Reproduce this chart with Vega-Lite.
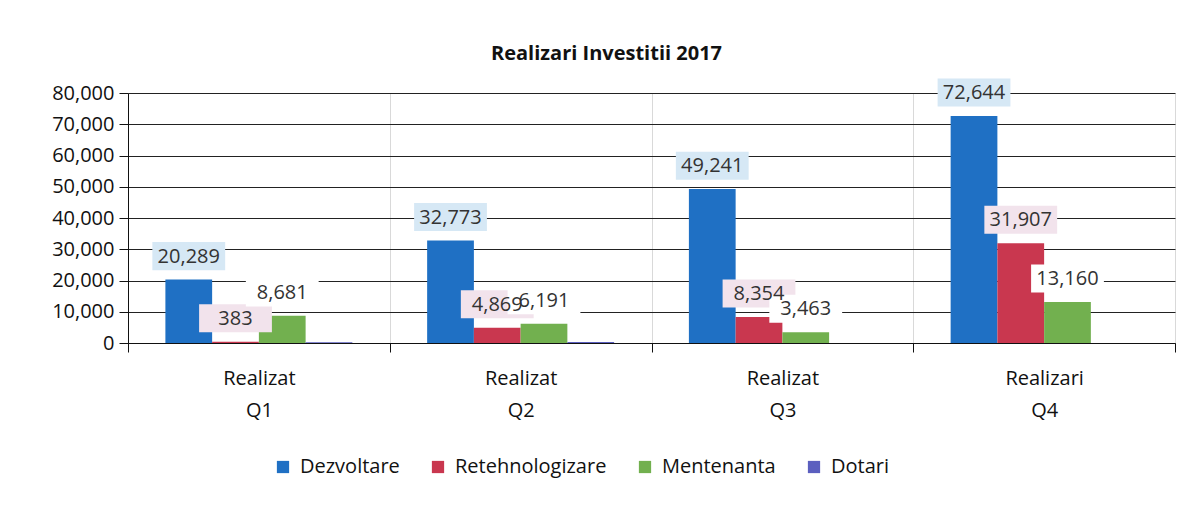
{
  "$schema": "https://vega.github.io/schema/vega-lite/v6.json",
  "width": 1047,
  "height": 250,
  "autosize": {"type": "none"},
  "padding": {"left": 128, "top": 93, "right": 19, "bottom": 165},
  "background": "white",
  "config": {"font": "Open Sans", "view": {"stroke": null}},
  "title": {"text": "Realizari Investitii 2017", "fontSize": 20, "fontWeight": "bold", "color": "#111", "offset": 14, "dx": -45},
  "data": {"values": [
    {"quarter": "Realizat Q1", "series": "Dezvoltare", "value": 20289},
    {"quarter": "Realizat Q1", "series": "Retehnologizare", "value": 383},
    {"quarter": "Realizat Q1", "series": "Mentenanta", "value": 8681},
    {"quarter": "Realizat Q1", "series": "Dotari", "value": 250},
    {"quarter": "Realizat Q2", "series": "Dezvoltare", "value": 32773},
    {"quarter": "Realizat Q2", "series": "Retehnologizare", "value": 4869},
    {"quarter": "Realizat Q2", "series": "Mentenanta", "value": 6191},
    {"quarter": "Realizat Q2", "series": "Dotari", "value": 350},
    {"quarter": "Realizat Q3", "series": "Dezvoltare", "value": 49241},
    {"quarter": "Realizat Q3", "series": "Retehnologizare", "value": 8354},
    {"quarter": "Realizat Q3", "series": "Mentenanta", "value": 3463},
    {"quarter": "Realizat Q3", "series": "Dotari", "value": 0},
    {"quarter": "Realizari Q4", "series": "Dezvoltare", "value": 72644},
    {"quarter": "Realizari Q4", "series": "Retehnologizare", "value": 31907},
    {"quarter": "Realizari Q4", "series": "Mentenanta", "value": 13160},
    {"quarter": "Realizari Q4", "series": "Dotari", "value": 0}
  ]},
  "encoding": {
    "x": {
      "field": "quarter", "type": "nominal",
      "sort": ["Realizat Q1", "Realizat Q2", "Realizat Q3", "Realizari Q4"],
      "scale": {"paddingInner": 0, "paddingOuter": 0},
      "axis": {
        "title": null, "labelAngle": 0, "labelExpr": "split(datum.label, ' ')",
        "labelFontSize": 20, "labelLineHeight": 32, "labelBaseline": "top", "labelPadding": 16,
        "labelColor": "#111", "tickBand": "extent", "ticks": true, "tickSize": 9, "tickColor": "#111",
        "domainColor": "#111", "grid": true, "gridColor": "#d9d9d9"
      }
    },
    "xOffset": {
      "field": "series", "type": "nominal",
      "sort": ["Dezvoltare", "Retehnologizare", "Mentenanta", "Dotari"],
      "scale": {"paddingInner": 0, "paddingOuter": 0.8}
    },
    "y": {
      "field": "value", "type": "quantitative",
      "scale": {"domain": [0, 80000], "nice": false},
      "axis": {
        "title": null, "format": ",.0f", "values": [0, 10000, 20000, 30000, 40000, 50000, 60000, 70000, 80000],
        "labelFontSize": 20, "labelColor": "#111", "labelPadding": 5,
        "domain": true, "domainColor": "#111", "ticks": true, "tickSize": 9, "tickColor": "#111",
        "grid": true, "gridColor": "#222", "gridWidth": 1.2
      }
    }
  },
  "layer": [
    {
      "mark": {"type": "bar"},
      "encoding": {
        "color": {
          "field": "series", "type": "nominal",
          "scale": {"domain": ["Dezvoltare", "Retehnologizare", "Mentenanta", "Dotari"], "range": ["#1f70c4", "#c9374f", "#72b04f", "#5b5fbf"]},
          "legend": {
            "orient": "none", "legendX": 145, "legendY": 364, "direction": "horizontal", "title": null, "symbolType": "square",
            "symbolSize": 150, "labelFontSize": 20, "labelColor": "#111", "columnPadding": 28, "labelOffset": 7
          }
        }
      }
    },
    {
      "transform": [{"filter": "datum.series != 'Dotari'"}],
      "mark": {"type": "point", "filled": true, "opacity": 1, "shape": "M-1,-1.03H1V-0.26H-1Z", "size": 5300, "strokeWidth": 0},
      "encoding": {
        "fill": {
          "field": "series", "type": "nominal",
          "scale": {"domain": ["Dezvoltare", "Retehnologizare", "Mentenanta"], "range": ["#d6e8f5", "#f2e3ec", "#ffffff"]},
          "legend": null
        }
      }
    },
    {
      "transform": [{"filter": "datum.series != 'Dotari'"}],
      "mark": {"type": "text", "dy": -23, "fontSize": 20, "color": "#333", "baseline": "middle"},
      "encoding": {
        "text": {"field": "value", "type": "quantitative", "format": ","}
      }
    }
  ]
}
